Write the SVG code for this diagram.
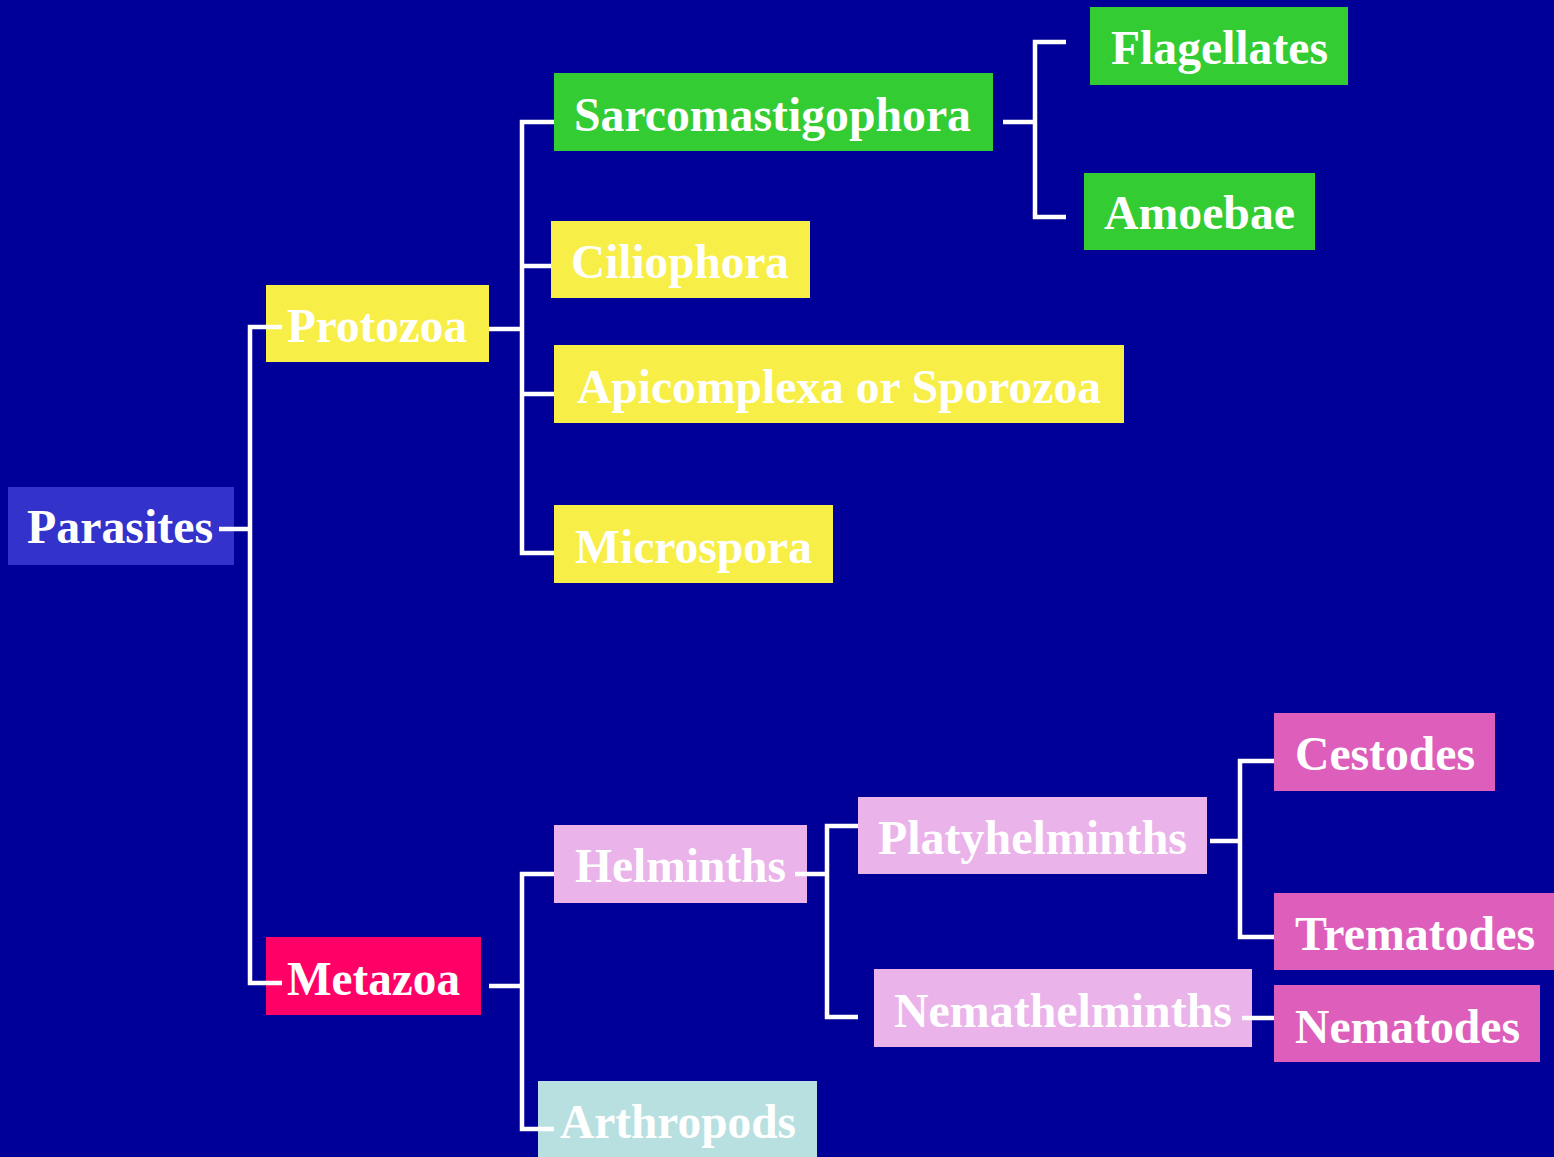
<svg xmlns="http://www.w3.org/2000/svg" width="1554" height="1157" viewBox="0 0 1554 1157">
<style>
.t{font-family:"Liberation Serif","Times New Roman",serif;font-weight:bold;font-size:48px;fill:#ffffff}
.c{stroke:#ffffff;stroke-width:4.5;fill:none;stroke-linecap:butt;stroke-linejoin:miter}
.blue{fill:#3333CC}.yel{fill:#F7EE47}.grn{fill:#33CC33}.red{fill:#FF0066}.lpk{fill:#EAB3EA}.dpk{fill:#DD5FBB}.cyn{fill:#B9E0E1}
</style>
<rect width="1554" height="1157" fill="#000099"/>
<g id="nodes">
<g id="parasites"><rect class="blue" x="8" y="487" width="226" height="78"/><text class="t" x="27" y="543" textLength="186" lengthAdjust="spacingAndGlyphs">Parasites</text></g>
<g id="protozoa"><rect class="yel" x="266" y="285" width="223" height="77"/><text class="t" x="287" y="342" textLength="180" lengthAdjust="spacingAndGlyphs">Protozoa</text></g>
<g id="sarcomastigophora"><rect class="grn" x="554" y="73" width="439" height="78"/><text class="t" x="574" y="131" textLength="397" lengthAdjust="spacingAndGlyphs">Sarcomastigophora</text></g>
<g id="ciliophora"><rect class="yel" x="551" y="221" width="259" height="77"/><text class="t" x="571" y="278" textLength="218" lengthAdjust="spacingAndGlyphs">Ciliophora</text></g>
<g id="apicomplexa"><rect class="yel" x="554" y="345" width="570" height="78"/><text class="t" x="577" y="403" textLength="524" lengthAdjust="spacingAndGlyphs">Apicomplexa or Sporozoa</text></g>
<g id="microspora"><rect class="yel" x="554" y="505" width="279" height="78"/><text class="t" x="575" y="563" textLength="237" lengthAdjust="spacingAndGlyphs">Microspora</text></g>
<g id="flagellates"><rect class="grn" x="1090" y="7" width="258" height="78"/><text class="t" x="1111" y="64" textLength="217" lengthAdjust="spacingAndGlyphs">Flagellates</text></g>
<g id="amoebae"><rect class="grn" x="1084" y="173" width="231" height="77"/><text class="t" x="1104" y="229" textLength="191" lengthAdjust="spacingAndGlyphs">Amoebae</text></g>
<g id="metazoa"><rect class="red" x="266" y="937" width="215" height="78"/><text class="t" x="287" y="995" textLength="173" lengthAdjust="spacingAndGlyphs">Metazoa</text></g>
<g id="helminths"><rect class="lpk" x="554" y="825" width="253" height="78"/><text class="t" x="575" y="882" textLength="211" lengthAdjust="spacingAndGlyphs">Helminths</text></g>
<g id="arthropods"><rect class="cyn" x="538" y="1081" width="279" height="80"/><text class="t" x="560" y="1138" textLength="236" lengthAdjust="spacingAndGlyphs">Arthropods</text></g>
<g id="platyhelminths"><rect class="lpk" x="858" y="797" width="349" height="77"/><text class="t" x="878" y="854" textLength="309" lengthAdjust="spacingAndGlyphs">Platyhelminths</text></g>
<g id="nemathelminths"><rect class="lpk" x="874" y="969" width="378" height="78"/><text class="t" x="894" y="1027" textLength="338" lengthAdjust="spacingAndGlyphs">Nemathelminths</text></g>
<g id="cestodes"><rect class="dpk" x="1274" y="713" width="221" height="78"/><text class="t" x="1295" y="770" textLength="180" lengthAdjust="spacingAndGlyphs">Cestodes</text></g>
<g id="trematodes"><rect class="dpk" x="1274" y="893" width="280" height="77"/><text class="t" x="1295" y="950" textLength="240" lengthAdjust="spacingAndGlyphs">Trematodes</text></g>
<g id="nematodes"><rect class="dpk" x="1274" y="985" width="266" height="77"/><text class="t" x="1295" y="1043" textLength="225" lengthAdjust="spacingAndGlyphs">Nematodes</text></g>
</g>
<g id="connectors">
<path class="c" d="M219 529H250M282 327H250V983H282"/>
<path class="c" d="M489 329H522M554 122H522V553H554M522 266H551M522 394H554"/>
<path class="c" d="M1003 122H1035M1066 42H1035V217H1066"/>
<path class="c" d="M489 986H522M554 874H522V1129H554"/>
<path class="c" d="M795 874H827M858 826H827V1017H858"/>
<path class="c" d="M1210 841H1240M1274 761H1240V937H1274"/>
<path class="c" d="M1242 1018H1274"/>
</g>
</svg>
